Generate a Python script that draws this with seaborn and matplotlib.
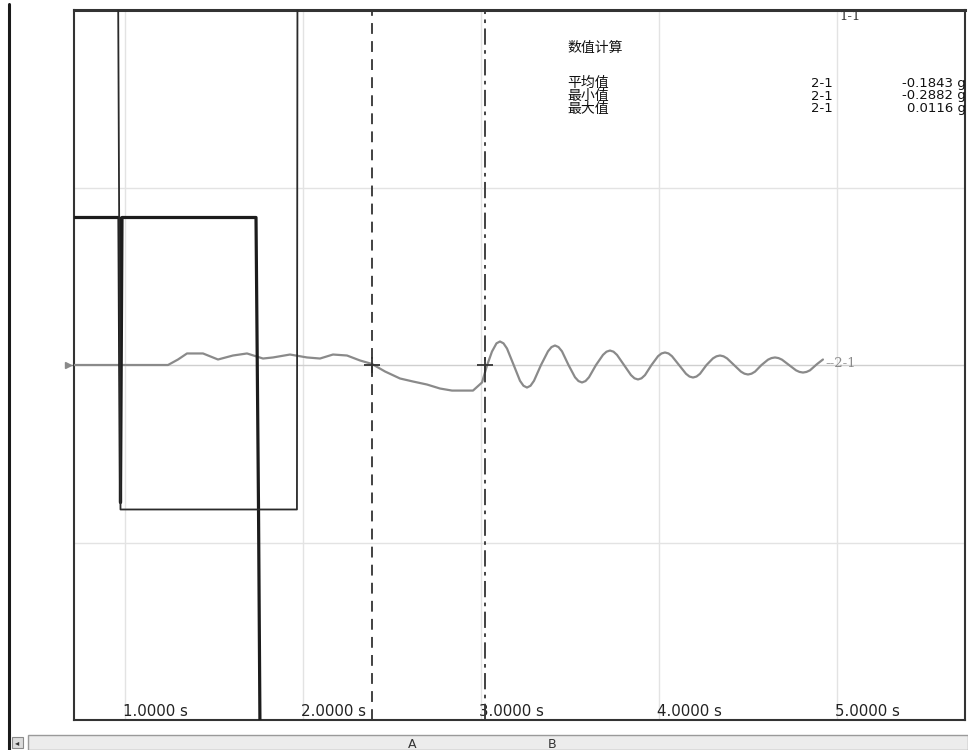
import matplotlib
matplotlib.use("Agg")
import matplotlib.pyplot as plt
import matplotlib.transforms as mtransforms
from matplotlib.lines import Line2D
from matplotlib.patches import Rectangle
import pandas as pd
import seaborn as sns

# ---- data -------------------------------------------------------------
# channel 2-1 (acceleration, g)
t_21 = [0.7135, 1.2416, 1.2978, 1.3483, 1.4382, 1.5225, 1.6067, 1.6854, 1.7753,
        1.8315, 1.9270, 2.0225, 2.0955, 2.1685, 2.2472, 2.3202, 2.3876, 2.4607,
        2.5449, 2.6180, 2.6966, 2.7697, 2.8371, 2.9551, 3.0056, 3.0337,
        3.0618, 3.0870, 3.1067, 3.1264, 3.1460, 3.1826, 3.2191, 3.2387, 3.2584,
        3.2781, 3.2977, 3.3371, 3.3764, 3.3960, 3.4157, 3.4354, 3.4550, 3.4916,
        3.5281, 3.5477, 3.5674, 3.5871, 3.6067, 3.6461, 3.6854, 3.7050, 3.7247,
        3.7444, 3.7640, 3.8034, 3.8427, 3.8623, 3.8820, 3.9017, 3.9213, 3.9579,
        3.9944, 4.0140, 4.0337, 4.0534, 4.0730, 4.1124, 4.1517, 4.1713, 4.1910,
        4.2107, 4.2303, 4.2669, 4.3034, 4.3230, 4.3427, 4.3624, 4.3820, 4.4214,
        4.4607, 4.4803, 4.5000, 4.5197, 4.5393, 4.5759, 4.6124, 4.6320, 4.6517,
        4.6714, 4.6910, 4.7304, 4.7697, 4.7893, 4.8090, 4.8287, 4.8483, 4.8876,
        4.9210]
v_21 = [0.0, 0.0, 0.062, 0.130, 0.130, 0.062, 0.107, 0.130, 0.073,
        0.085, 0.118, 0.085, 0.073, 0.118, 0.107, 0.051, 0.0116, -0.073,
        -0.152, -0.186, -0.220, -0.265, -0.2882, -0.2882, -0.197, -0.006,
        0.152, 0.244, 0.265, 0.244, 0.186, 0.005, -0.178, -0.234, -0.254,
        -0.234, -0.178, 0.0, 0.154, 0.202, 0.220, 0.202, 0.154, 0.0,
        -0.138, -0.181, -0.197, -0.181, -0.138, 0.0, 0.114, 0.150, 0.163,
        0.150, 0.114, 0.0, -0.114, -0.150, -0.163, -0.150, -0.114, 0.0,
        0.099, 0.130, 0.141, 0.130, 0.099, 0.0, -0.099, -0.130, -0.141,
        -0.130, -0.099, 0.0, 0.075, 0.098, 0.107, 0.098, 0.075, 0.0,
        -0.075, -0.098, -0.107, -0.098, -0.075, 0.0, 0.060, 0.078, 0.085,
        0.078, 0.060, 0.0, -0.060, -0.078, -0.085, -0.078, -0.060, 0.010,
        0.062]

# channel 1-1, level trace with release spike
t_11 = [0.7135, 0.9663, 0.9747, 0.9832, 1.7360, 1.7500, 1.7580, 1.7600]
v_11 = [1.662, 1.662, -1.55, 1.662, 1.662, -1.60, -4.00, -4.50]

# channel 1-1, pulse trace
t_11b = [0.9607, 0.9747, 1.9660, 1.9690]
v_11b = [4.50, -1.628, -1.628, 4.50]

tick_times = [1, 2, 3, 4, 5]
cursor_a = 2.388
cursor_b = 3.022

stat_title = "数值计算"
stat_names = ["平均值", "最小值", "最大值"]
stat_channels = ["2-1", "2-1", "2-1"]
stat_values = [-0.1843, -0.2882, 0.0116]

# ---- figure ------------------------------------------------------------
sns.set_theme(style="white")
plt.rcParams["font.family"] = ["DejaVu Sans", "Noto Sans CJK SC"]

W, H = 968, 750
fig = plt.figure(figsize=(W / 100, H / 100), dpi=100)
fig.patch.set_facecolor("white")
ax = fig.add_axes([74 / W, 30 / H, (965 - 74) / W, (720 - 10) / H])
ax.set_facecolor("white")
ax.set_xlim(0.7135, 5.7191)
ax.set_ylim(-4.0, 4.0)

# grid
for t in tick_times:
    ax.axvline(t, color="#e3e3e3", lw=1.0, zorder=0)
for v in [-2, 2]:
    ax.axhline(v, color="#e3e3e3", lw=1.0, zorder=0)
ax.axhline(0, color="#cfcfcf", lw=1.0, zorder=0)

# traces
df21 = pd.DataFrame({"t": t_21, "v": v_21})
sns.lineplot(data=df21, x="t", y="v", sort=False, estimator=None,
             color="#8a8a8a", lw=1.6, ax=ax, zorder=3)
df11 = pd.DataFrame({"t": t_11, "v": v_11})
sns.lineplot(data=df11, x="t", y="v", sort=False, estimator=None,
             color="#1c1c1c", lw=2.3, ax=ax, zorder=4)
df11b = pd.DataFrame({"t": t_11b, "v": v_11b})
sns.lineplot(data=df11b, x="t", y="v", sort=False, estimator=None,
             color="#2a2a2a", lw=1.3, ax=ax, zorder=4)

# zero marker of channel 2-1 outside the frame
ax.plot([0.680], [0.0], marker=">", ms=4, color="#8a8a8a", clip_on=False, zorder=5)
ax.plot([0.680, 0.7135], [0.0, 0.0], color="#8a8a8a", lw=1.0, clip_on=False)

# cursors
ax.axvline(cursor_a, color="#333333", lw=1.3, ls=(0, (6, 4)), zorder=5)
ax.axvline(cursor_b, color="#333333", lw=1.3, ls=(0, (9, 3, 2, 3)), zorder=5)
ax.plot([cursor_a, cursor_b], [0.0, 0.0], ls="none", marker="+", ms=12,
        mew=1.3, color="#333333", zorder=6)

# frame
for side, sp in ax.spines.items():
    sp.set_visible(True)
    sp.set_color("#333333")
    sp.set_linewidth(1.5)
ax.spines["top"].set_linewidth(2.2)
ax.set_xticks([])
ax.set_yticks([])
ax.set_xlabel("")
ax.set_ylabel("")

# time labels inside the frame
trans = mtransforms.blended_transform_factory(ax.transData, ax.transAxes)
for t in tick_times:
    ax.text(t - 0.012, 0.005, f"{t:.4f} s", transform=trans, ha="left", va="baseline",
            fontsize=10.8, color="#222222", family=["DejaVu Sans"])

# channel labels
fig.text(850 / W, 1 - 16 / H, "1-1", ha="center", va="center", fontsize=9.5,
         color="#333333", family=["DejaVu Serif"])
ax.text(4.935, 0.02, "--2-1", ha="left", va="center", fontsize=9.5,
        color="#8a8a8a", family=["DejaVu Serif"])

# statistics block
cjk = ["Noto Sans CJK SC", "DejaVu Sans"]
fig.text(567 / W, 1 - 48 / H, stat_title, ha="left", va="center",
         fontsize=10, color="#111111", family=cjk)
ymid = 1 - 96 / H
fig.text(567 / W, ymid, "\n".join(stat_names), ha="left", va="center",
         fontsize=10, linespacing=0.9, color="#111111", family=cjk)
fig.text(833 / W, ymid, "\n".join(stat_channels), ha="right", va="center",
         fontsize=9.5, linespacing=0.92, color="#111111", family=["DejaVu Sans"],
         multialignment="right")
fig.text(966 / W, ymid, "\n".join(f"{v:.4f} g" for v in stat_values), ha="right",
         va="center", fontsize=9.5, linespacing=0.92, color="#111111",
         family=["DejaVu Sans"], multialignment="right")

# window border on the left
fig.add_artist(Line2D([9 / W, 9 / W], [0.0, 1 - 4 / H], color="#1a1a1a", lw=2.2))

# scroll bar along the bottom
fig.add_artist(Rectangle((28 / W, 0.0), (968 - 28) / W, 15 / H, transform=fig.transFigure,
                         facecolor="#ececec", edgecolor="#9a9a9a", lw=1.0))
fig.add_artist(Rectangle((12 / W, 2 / H), 11 / W, 11 / H, transform=fig.transFigure,
                         facecolor="#dcdcdc", edgecolor="#8a8a8a", lw=0.8))
fig.text(17.5 / W, 7.5 / H, "◂", ha="center", va="center", fontsize=6, color="#333333")
fig.text(412 / W, 6 / H, "A", ha="center", va="center", fontsize=9, color="#333333")
fig.text(552 / W, 6 / H, "B", ha="center", va="center", fontsize=9, color="#333333")

fig.savefig("out.png", dpi=100, facecolor="white")
